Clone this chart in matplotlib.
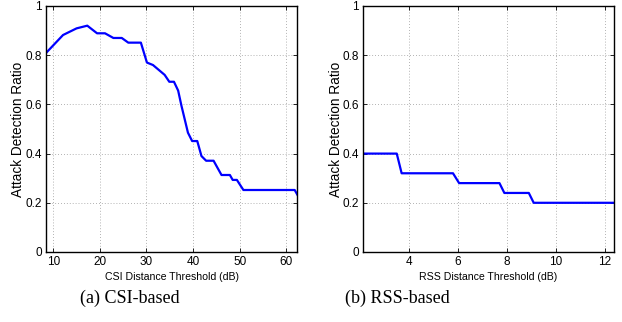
import numpy as np
import matplotlib
matplotlib.use("Agg")
import matplotlib.pyplot as plt
from matplotlib.ticker import FuncFormatter

# CSI-based detection ratio (vertices)
csi_thr = [8.4, 12.1, 15.0, 17.3, 19.4, 21.1, 22.9, 24.7, 26.1, 28.8, 30.1, 31.4,
           33.9, 34.9, 35.9, 36.8, 37.5, 38.9, 39.8, 40.9, 41.8, 42.8, 44.4, 45.1,
           46.1, 47.9, 48.5, 49.4, 50.8, 61.8, 62.4]
csi_ratio = [0.808, 0.882, 0.909, 0.920, 0.889, 0.889, 0.870, 0.870, 0.851, 0.851,
             0.770, 0.760, 0.720, 0.692, 0.692, 0.656, 0.595, 0.485, 0.451, 0.451,
             0.390, 0.371, 0.371, 0.347, 0.313, 0.313, 0.293, 0.293, 0.252, 0.252,
             0.232]

# RSS-based detection ratio
rss_thr = [2.1, 3.5, 3.7, 5.8, 6.05, 7.7, 7.9, 8.9, 9.1, 12.4]
rss_ratio = [0.40, 0.40, 0.32, 0.32, 0.28, 0.28, 0.24, 0.24, 0.20, 0.20]

csi_ticks = [10, 20, 30, 40, 50, 60]
rss_ticks = [4, 6, 8, 10, 12]
y_ticks = [0, 0.2, 0.4, 0.6, 0.8, 1]

plt.rcParams['font.family'] = ['Liberation Sans', 'DejaVu Sans']
plt.rcParams['font.size'] = 8

fig = plt.figure(figsize=(6.22, 3.22), dpi=100)
ax1 = fig.add_axes([0.074, 0.2174, 0.4035, 0.764])
ax2 = fig.add_axes([0.584, 0.2174, 0.403, 0.764])

def yfmt(v, pos):
    return "%g" % v

panels = [
    (ax1, csi_thr, csi_ratio, csi_ticks, (8.45, 62.3), "CSI Distance Threshold (dB)"),
    (ax2, rss_thr, rss_ratio, rss_ticks, (2.13, 12.38), "RSS Distance Threshold (dB)"),
]
for ax, x, y, xt, xl, lab in panels:
    ax.plot(x, y, color=(0, 0, 1), lw=1.6)
    ax.set_xlim(xl)
    ax.set_ylim(0, 1)
    ax.set_xticks(xt)
    ax.set_yticks(y_ticks)
    ax.yaxis.set_major_formatter(FuncFormatter(yfmt))
    ax.grid(True, linestyle=(0, (1, 2.5)), color='#999999', lw=0.6)
    ax.tick_params(direction='in', top=True, right=True, length=3, width=0.6,
                   labelsize=8.5, pad=3)
    for s in ax.spines.values():
        s.set_linewidth(1.0)
    ax.set_xlabel(lab, fontsize=7.6, labelpad=3)
    ax.set_ylabel("Attack Detection Ratio", fontsize=9.8, labelpad=0)

fig.text(130 / 622, 1 - 298 / 322, "(a) CSI-based", family='Liberation Serif',
         fontsize=13, ha='center', va='center')
fig.text(397 / 622, 1 - 298 / 322, "(b) RSS-based", family='Liberation Serif',
         fontsize=13, ha='center', va='center')

fig.savefig("out.png", dpi=100)
